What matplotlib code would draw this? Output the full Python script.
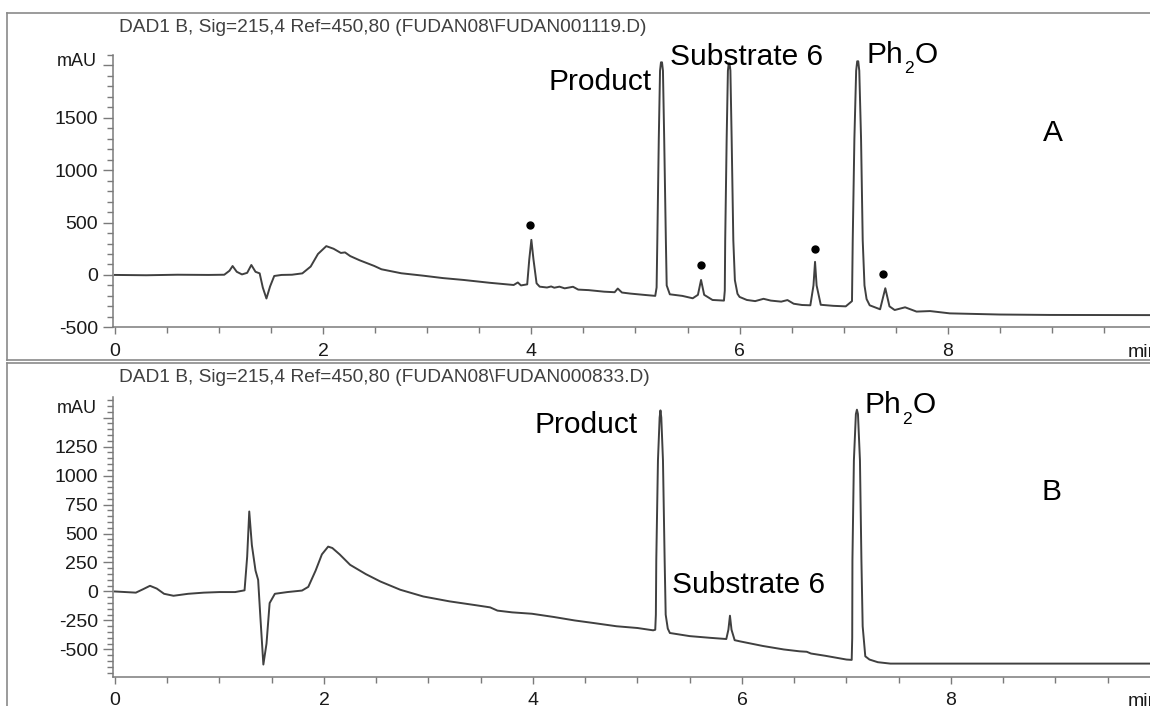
import matplotlib
matplotlib.use("Agg")
import matplotlib.pyplot as plt
from matplotlib.lines import Line2D
from matplotlib.ticker import MultipleLocator, FixedLocator
from matplotlib.transforms import offset_copy
import numpy as np

plt.rcParams['font.family'] = ['Liberation Sans', 'DejaVu Sans']

# ---------------- data: chromatogram A ----------------
time_a = [0.00, 0.30, 0.60, 0.90, 1.05, 1.10, 1.13, 1.17, 1.22, 1.27, 1.31, 1.35, 1.39,
          1.42, 1.455, 1.49, 1.53, 1.60, 1.70, 1.80, 1.88, 1.95, 2.03, 2.10, 2.17, 2.21,
          2.26, 2.35, 2.49, 2.56, 2.75, 2.96, 3.15, 3.35, 3.60, 3.83, 3.87, 3.90, 3.96,
          3.98, 4.00, 4.02, 4.05, 4.08, 4.15, 4.19, 4.22, 4.27, 4.32, 4.40, 4.45, 4.55,
          4.70, 4.80, 4.83, 4.87, 4.95, 5.10, 5.19, 5.203, 5.21, 5.224, 5.236, 5.245,
          5.255, 5.264, 5.276, 5.292, 5.30, 5.33, 5.45, 5.55, 5.60, 5.63, 5.66, 5.74,
          5.85, 5.858, 5.862, 5.876, 5.888, 5.896, 5.904, 5.912, 5.924, 5.94, 5.955,
          5.98, 6.00, 6.07, 6.15, 6.23, 6.30, 6.40, 6.46, 6.52, 6.60, 6.68, 6.71, 6.725,
          6.74, 6.78, 6.90, 7.02, 7.08, 7.087, 7.103, 7.12, 7.13, 7.14, 7.15, 7.167,
          7.183, 7.20, 7.22, 7.25, 7.35, 7.40, 7.44, 7.49, 7.59, 7.70, 7.83, 8.02, 8.50,
          8.98, 10.2]
signal_a = [0, -3, 2, 0, 2, 40, 85, 30, 5, 20, 95, 30, 15,
            -120, -225, -110, -10, 0, 2, 15, 80, 200, 275, 250, 210, 215,
            180, 140, 86, 54, 16, -7, -30, -48, -75, -96, -72, -100, -90,
            150, 335, 150, -80, -112, -120, -110, -122, -112, -128, -113, -140, -145,
            -160, -165, -130, -168, -178, -192, -200, -120, 330, 1300, 1950, 2030,
            2030, 1950, 1300, 330, -100, -185, -200, -223, -190, -48, -190, -239,
            -245, -150, 330, 1300, 1950, 2020, 2020, 1950, 1300, 330, -50,
            -180, -210, -239, -250, -228, -245, -255, -240, -275, -287, -290, -100, 125,
            -100, -285, -295, -300, -250, 330, 1300, 1950, 2040, 2040, 1950, 1300,
            330, -100, -230, -290, -328, -127, -300, -335, -309, -350, -345, -367, -378,
            -382, -384]
dot_time_a = [3.99, 5.63, 6.72, 7.38]
dot_signal_a = [478, 96, 249, 7]

# ---------------- data: chromatogram B ----------------
time_b = [0.00, 0.10, 0.20, 0.27, 0.335, 0.40, 0.47, 0.56, 0.70, 0.85, 1.00, 1.15, 1.24,
          1.265, 1.285, 1.31, 1.345, 1.37, 1.39, 1.42, 1.45, 1.48, 1.53, 1.65, 1.79,
          1.85, 1.92, 1.98, 2.04, 2.08, 2.15, 2.25, 2.40, 2.54, 2.73, 2.95, 3.20, 3.45,
          3.59, 3.66, 3.80, 3.99, 4.20, 4.40, 4.58, 4.80, 5.00, 5.15, 5.17, 5.176, 5.18,
          5.196, 5.212, 5.22, 5.228, 5.244, 5.26, 5.27, 5.29, 5.31, 5.50, 5.70, 5.85,
          5.87, 5.885, 5.90, 5.93, 5.98, 6.20, 6.40, 6.55, 6.62, 6.66, 6.80, 7.00, 7.05,
          7.055, 7.057, 7.071, 7.09, 7.10, 7.11, 7.129, 7.143, 7.155, 7.18, 7.22, 7.30,
          7.42, 10.2]
signal_b = [0, -5, -10, 20, 49, 25, -20, -37, -20, -10, -5, -5, 10,
            300, 690, 400, 180, 100, -200, -630, -450, -100, -20, -5, 8,
            40, 180, 320, 387, 375, 320, 230, 150, 86, 15, -43, -85, -118,
            -137, -165, -180, -192, -220, -250, -272, -300, -315, -335, -330, -200, 270,
            1130, 1500, 1562, 1500, 1130, 270, -200, -320, -358, -385, -400, -410,
            -330, -209, -330, -420, -430, -470, -500, -516, -520, -535, -555, -587, -590,
            -400, 270, 1130, 1530, 1568, 1530, 1130, 270, -300, -559, -587, -610,
            -622, -622]

header_a = "DAD1 B, Sig=215,4 Ref=450,80 (FUDAN08\\FUDAN001119.D)"
header_b = "DAD1 B, Sig=215,4 Ref=450,80 (FUDAN08\\FUDAN000833.D)"
x_major = [0, 2, 4, 6, 8]

W, H = 1150, 706
fig = plt.figure(figsize=(W / 100, H / 100), dpi=100)


def px_axes(left, top, right, bottom):
    return fig.add_axes([left / W, 1 - bottom / H, (right - left) / W, (bottom - top) / H])


trace_col = '#404040'
spine_col = '#7a7a7a'
text_col = '#1a1a1a'


def style(ax, ylim, ymajor, ylabels, yminor):
    ax.set_xlim(-0.016, 10.2)
    ax.set_ylim(*ylim)
    for s in ['top', 'right']:
        ax.spines[s].set_visible(False)
    for s in ['left', 'bottom']:
        ax.spines[s].set_color(spine_col)
        ax.spines[s].set_linewidth(1.1)
    ax.xaxis.set_major_locator(FixedLocator(x_major))
    ax.xaxis.set_minor_locator(MultipleLocator(0.5))
    ax.set_xticklabels([str(v) for v in x_major])
    ax.yaxis.set_major_locator(FixedLocator(ymajor))
    ax.set_yticklabels(ylabels)
    ax.yaxis.set_minor_locator(MultipleLocator(yminor))
    ax.tick_params(axis='x', which='major', length=5, width=1, color=spine_col,
                   labelsize=14, labelcolor=text_col, pad=6)
    ax.tick_params(axis='x', which='minor', length=4, width=1, color=spine_col)
    ax.tick_params(axis='y', which='major', length=7, width=1, color=spine_col,
                   labelsize=14, labelcolor=text_col, pad=4)
    ax.tick_params(axis='y', which='minor', length=4, width=1, color=spine_col)
    ax.patch.set_visible(False)


lab = dict(fontsize=21.5, color='black')


def ph2o(ax, x, y):
    """Write Ph2O with a low, small subscript, starting at data point (x, y)."""
    t1 = ax.text(x, y, 'Ph', ha='left', va='baseline', **lab)
    fig.canvas.draw()
    w1 = t1.get_window_extent().width
    tr2 = offset_copy(ax.transData, fig=fig, x=w1 + 1, y=-10.5, units='dots')
    t2 = ax.text(x, y, '2', ha='left', va='baseline', fontsize=12.5, color='black',
                 transform=tr2)
    fig.canvas.draw()
    w2 = t2.get_window_extent().width
    tr3 = offset_copy(ax.transData, fig=fig, x=w1 + w2 + 2, y=0, units='dots')
    ax.text(x, y, 'O', ha='left', va='baseline', transform=tr3, **lab)


# ---------------- panel A ----------------
axA = px_axes(113.3, 55, 113.3 + 10.216 * 104.1, 327.3)
axA.plot(time_a, signal_a, color=trace_col, lw=1.4, solid_joinstyle='round')
axA.plot(dot_time_a, dot_signal_a, 'o', color='black', ms=5)
style(axA, (-500, 2100), [-500, 0, 500, 1000, 1500, 2000],
      ['-500', '0', '500', '1000', '1500', ''], 100)

axA.text(5.16, 1762, 'Product', ha='right', va='baseline', **lab)
axA.text(5.33, 2001, 'Substrate 6', ha='left', va='baseline', **lab)
ph2o(axA, 7.22, 2024)
axA.text(9.01, 1281, 'A', ha='center', va='baseline', **lab)

# ---------------- panel B ----------------
axB = px_axes(113.3, 396.7, 113.3 + 10.216 * 104.5, 676.7)
axB.plot(time_b, signal_b, color=trace_col, lw=1.4, solid_joinstyle='round')
style(axB, (-735, 1680), [-500, -250, 0, 250, 500, 750, 1000, 1250, 1500],
      ['-500', '-250', '0', '250', '500', '750', '1000', '1250', ''], 50)

axB.text(5.00, 1369, 'Product', ha='right', va='baseline', **lab)
axB.text(5.33, -16, 'Substrate 6', ha='left', va='baseline', **lab)
ph2o(axB, 7.17, 1536)
axB.text(8.96, 789, 'B', ha='center', va='baseline', **lab)

# axis unit labels
fig.text(97 / W, 1 - 61.7 / H, 'mAU', ha='right', va='center', fontsize=13, color=text_col)
fig.text(97 / W, 1 - 408.3 / H, 'mAU', ha='right', va='center', fontsize=13, color=text_col)
fig.text(1128 / W, 1 - 356.7 / H, 'min', ha='left', va='baseline', fontsize=14, color=text_col)
fig.text(1128 / W, 1 - 706.5 / H, 'min', ha='left', va='baseline', fontsize=14, color=text_col)

# headers
fig.text(119 / W, 1 - 31.7 / H, header_a, ha='left', va='baseline', fontsize=13.8, color='#404040')
fig.text(119 / W, 1 - 382.3 / H, header_b, ha='left', va='baseline', fontsize=13.8, color='#404040')

# panel frames
bc = '#8a8a8a'


def hline(y, x0=7, x1=W):
    fig.add_artist(Line2D([x0 / W, x1 / W], [1 - y / H, 1 - y / H], color=bc, lw=1.2,
                          transform=fig.transFigure))


def vline(x, y0, y1):
    fig.add_artist(Line2D([x / W, x / W], [1 - y0 / H, 1 - y1 / H], color=bc, lw=1.2,
                          transform=fig.transFigure))


hline(13.3)
hline(360.3)
hline(362.8)
vline(7.3, 13.3, 360.3)
vline(7.3, 362.8, H)

fig.savefig('out.png', dpi=100)
